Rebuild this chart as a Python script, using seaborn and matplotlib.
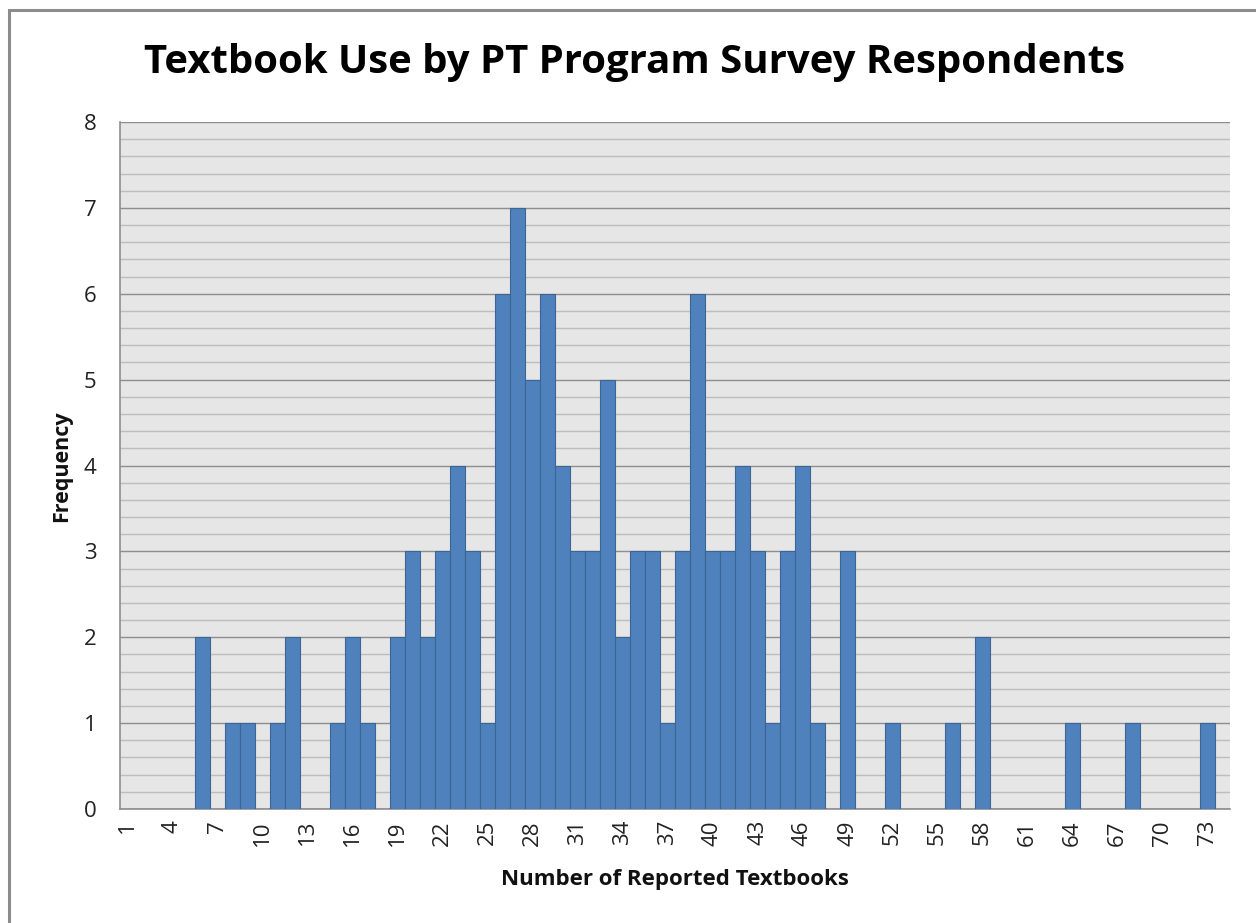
import numpy as np
import pandas as pd
import matplotlib
matplotlib.use("Agg")
import matplotlib.pyplot as plt
import seaborn as sns
from matplotlib.ticker import MultipleLocator
from matplotlib.patches import Rectangle

# ---- data ----
categories = list(range(1, 75))
frequency = [0, 0, 0, 0, 0, 2, 0, 1, 1, 0,
             1, 2, 0, 0, 1, 2, 1, 0, 2, 3,
             2, 3, 4, 3, 1, 6, 7, 5, 6, 4,
             3, 3, 5, 2, 3, 3, 1, 3, 6, 3,
             3, 4, 3, 1, 3, 4, 1, 0, 3, 0,
             0, 1, 0, 0, 0, 1, 0, 2, 0, 0,
             0, 0, 0, 1, 0, 0, 0, 1, 0, 0,
             0, 0, 1, 0]
tick_labels = [str(v) for v in range(1, 74, 3)]
title = "Textbook Use by PT Program Survey Respondents"
xlabel = "Number of Reported Textbooks"
ylabel = "Frequency"

df = pd.DataFrame({"textbooks": categories, "freq": frequency})

sns.set_theme(style="white")
plt.rcParams["font.family"] = ["Open Sans", "DejaVu Sans"]

W, H = 1256, 923
fig = plt.figure(figsize=(W / 100, H / 100), dpi=100)
fig.patch.set_facecolor("white")

# outer chart border (cut off at right/bottom as in reference)
fig.patches.append(Rectangle((8.5 / W, -0.1), 2.0, 1 - 9.5 / H + 0.1,
                             transform=fig.transFigure, fill=False,
                             edgecolor="#8C8C8C", linewidth=2.2, zorder=0))

left, right, top, bottom = 120, 1230, 122, 809
ax = fig.add_axes([left / W, 1 - bottom / H, (right - left) / W, (bottom - top) / H])
ax.set_facecolor("#E6E6E6")

sns.barplot(data=df, x="textbooks", y="freq", order=categories, ax=ax,
            color="#4F81BD", saturation=1, width=1.0,
            edgecolor="#3A6595", linewidth=0.8, zorder=3)

ax.set_xlim(-0.5, len(categories) - 0.5)
ax.set_ylim(0, 8)
ax.yaxis.set_major_locator(MultipleLocator(1))
ax.yaxis.set_minor_locator(MultipleLocator(0.2))
ax.grid(which="major", axis="y", color="#8E8E8E", linewidth=1.0, zorder=1)
ax.grid(which="minor", axis="y", color="#BDBDBD", linewidth=1.0, zorder=1)
ax.grid(axis="x", visible=False)
ax.set_axisbelow(True)

ax.set_xticks(range(0, 73, 3))
ax.set_xticklabels(tick_labels, rotation=90, fontsize=16, color="#222222")
ax.tick_params(axis="x", length=0, pad=8)
ax.tick_params(axis="y", which="major", length=9, width=1, color="#8E8E8E",
               labelsize=16, pad=8, labelcolor="#222222")
ax.tick_params(axis="y", which="minor", length=0)

for s in ["top", "right"]:
    ax.spines[s].set_visible(False)
for s in ["left", "bottom"]:
    ax.spines[s].set_color("#8E8E8E")
    ax.spines[s].set_linewidth(1.2)

ax.set_xlabel("")
ax.set_ylabel("")
fig.text(675 / W, 1 - 880 / H, xlabel, ha="center", va="center",
         fontsize=16, fontweight="bold", color="#111111")
fig.text(62 / W, 1 - 466 / H, ylabel, ha="center", va="center",
         rotation=90, fontsize=15.5, fontweight="bold", color="#111111")
fig.text(634 / W, 1 - 62 / H, title, ha="center", va="center",
         fontsize=28.9, fontweight="bold", color="#000000")

fig.savefig("out.png", dpi=100)
